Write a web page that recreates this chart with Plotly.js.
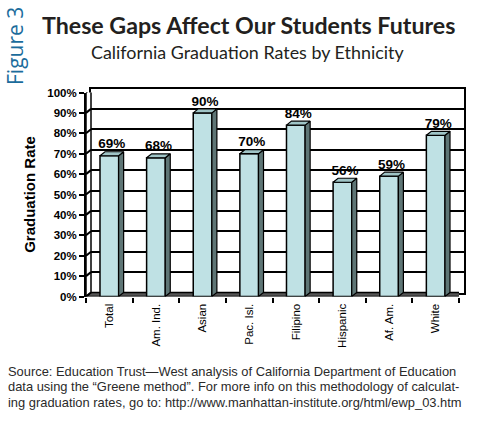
<!DOCTYPE html>
<html><head><meta charset="utf-8">
<script src="https://cdn.plot.ly/plotly-3.0.1.min.js"></script>
<style>html,body{margin:0;padding:0;background:#fff}#chart{width:490px;height:422px}</style>
</head><body><div id="chart"></div>
<script>
// ---- data ----
const categories = ["Total", "Am. Ind.", "Asian", "Pac. Isl.", "Filipino", "Hispanic", "Af. Am.", "White"];
const rates = [69, 68, 90, 70, 84, 56, 59, 79];
const rateLabels = ["69%", "68%", "90%", "70%", "84%", "56%", "59%", "79%"];
const yTicks = [0, 10, 20, 30, 40, 50, 60, 70, 80, 90, 100];
const sourceLines = [
  'Source: Education Trust—West analysis of California Department of Education',
  'data using the “Greene method”. For more info on this methodology of calculat-',
  'ing graduation rates, go to: http://www.manhattan-institute.org/html/ewp_03.htm'
];

// ---- geometry helpers (pixels -> paper) ----
const W = 490, H = 422;
const px = v => v / W, py = v => 1 - v / H;
const front = {x0: 86, x1: 459, y0: 296.5, y1: 92.5};
const DX = 5, DY = 4; // 3-D depth in px
const xUnit = (front.x1 - front.x0) / categories.length;
const yUnit = (front.y0 - front.y1) / 100;
const dx = DX / xUnit, dy = DY / yUnit; // depth in data units
const bw = 0.4;

const idx = categories.map((c, i) => i);

// side and top faces, built from the data
const sideX = [], sideY = [], topX = [], topY = [];
idx.forEach(i => {
  const v = rates[i], l = i - bw / 2, r = i + bw / 2;
  sideX.push(r, r + dx, r + dx, r, r, null);
  sideY.push(0, dy, v + dy, v, 0, null);
  topX.push(l, l + dx, r + dx, r, l, null);
  topY.push(v, v + dy, v + dy, v, v, null);
});

const traces = [
  {x: [-0.5, 7.5], y: [0, 100], xaxis: 'x', yaxis: 'y', mode: 'markers',
   marker: {opacity: 0}, hoverinfo: 'skip', showlegend: false},
  {type: 'bar', x: idx, y: rates, xaxis: 'x2', yaxis: 'y2', width: bw,
   marker: {color: '#bfe1e4', line: {color: '#000', width: 1.5}},
   hoverinfo: 'skip', showlegend: false},
  {x: sideX, y: sideY, xaxis: 'x2', yaxis: 'y2', mode: 'lines', fill: 'toself',
   fillcolor: '#5e7575', line: {color: '#000', width: 1.2}, hoverinfo: 'skip', showlegend: false},
  {x: topX, y: topY, xaxis: 'x2', yaxis: 'y2', mode: 'lines', fill: 'toself',
   fillcolor: '#9fc4c6', line: {color: '#000', width: 1.2}, hoverinfo: 'skip', showlegend: false},
  {x: idx.map(i => i + dx / 2), y: rates.map(v => v + dy), text: rateLabels,
   xaxis: 'x2', yaxis: 'y2', mode: 'text', textposition: 'top center',
   textfont: {family: 'Liberation Sans, Arial', size: 13.5, color: '#000', weight: 'bold'},
   cliponaxis: false, hoverinfo: 'skip', showlegend: false}
];

const shapes = [];
shapes.push({type: 'path', xref: 'x2', yref: 'y2', layer: 'below',
  path: `M -0.5 0 L 7.5 0 L ${7.5 + dx} ${dy} L ${-0.5 + dx} ${dy} Z`,
  fillcolor: '#555555', line: {color: '#000', width: 1.5}});
shapes.push({type: 'path', xref: 'x2', yref: 'y2', layer: 'below',
  path: `M -0.5 0 L -0.5 100 L ${-0.5 + dx} ${100 + dy} L ${-0.5 + dx} ${dy} Z`,
  fillcolor: '#ffffff', line: {color: '#000', width: 1.5}});
yTicks.forEach(t => shapes.push({type: 'line', xref: 'x2', yref: 'y2', layer: 'below',
  x0: -0.5, y0: t, x1: -0.5 + dx, y1: t + dy, line: {color: '#000', width: 2}}));

const fontArial = 'Liberation Sans, Arial, sans-serif';

const annotations = [
  {text: 'These Gaps Affect Our Students Futures', xref: 'paper', yref: 'paper',
   x: px(248.5), y: py(25), xanchor: 'center', yanchor: 'middle', showarrow: false,
   font: {family: 'Lato, sans-serif', size: 23.2, color: '#231f20', weight: 'bold'}},
  {text: 'California Graduation Rates by Ethnicity', xref: 'paper', yref: 'paper',
   x: px(248), y: py(52), xanchor: 'center', yanchor: 'middle', showarrow: false,
   font: {family: 'Lato, sans-serif', size: 17.9, color: '#231f20'}},
  {text: 'Figure 3', xref: 'paper', yref: 'paper', textangle: -90,
   x: px(15), y: py(46), xanchor: 'center', yanchor: 'middle', showarrow: false,
   font: {family: 'Open Sans, sans-serif', size: 21, color: '#1b6c9c'}}
];
sourceLines.forEach((t, k) => annotations.push({text: t, xref: 'paper', yref: 'paper',
  x: px(6), y: py(371 + k * 15.5), xanchor: 'left', yanchor: 'middle', showarrow: false,
  font: {family: fontArial, size: 12.9, color: '#2a2a2a'}}));

const layout = {
  width: W, height: H, margin: {l: 0, r: 0, t: 0, b: 0},
  paper_bgcolor: '#fff', plot_bgcolor: 'rgba(0,0,0,0)', showlegend: false,
  xaxis: {domain: [px(front.x0 + DX), px(front.x1 + DX)], range: [-0.5, 7.5],
    showgrid: false, zeroline: false, showticklabels: false, ticks: '',
    showline: true, mirror: true, linecolor: '#000', linewidth: 2, fixedrange: true},
  yaxis: {domain: [py(front.y0 - DY), py(front.y1 - DY)], range: [0, 100],
    tickvals: yTicks, showgrid: true, gridcolor: '#000', gridwidth: 2,
    zeroline: false, showticklabels: false, ticks: '',
    showline: true, mirror: true, linecolor: '#000', linewidth: 2, fixedrange: true},
  xaxis2: {domain: [px(front.x0), px(front.x1)], range: [-0.5, 7.5], anchor: 'y2',
    tickvals: idx, ticktext: categories, ticks: '', tickangle: -90,
    ticklabelstandoff: 4,
    tickfont: {family: fontArial, size: 11.5, color: '#000'},
    minor: {tickvals: [-0.5, 0.5, 1.5, 2.5, 3.5, 4.5, 5.5, 6.5, 7.5], ticks: 'outside',
      ticklen: 5, tickwidth: 2, tickcolor: '#000'},
    showgrid: false, zeroline: false, showline: false, fixedrange: true},
  yaxis2: {domain: [py(front.y0), py(front.y1)], range: [0, 100], anchor: 'x2',
    tickvals: yTicks, ticktext: yTicks.map(t => t + '%'), ticks: 'outside',
    ticklen: 5, tickwidth: 2, tickcolor: '#000',
    tickfont: {family: fontArial, size: 11.5, color: '#000', weight: 'bold'},
    showgrid: false, zeroline: false, showline: true, linecolor: '#000', linewidth: 2,
    title: {text: 'Graduation Rate', standoff: 8,
      font: {family: 'Liberation Sans Narrow, Arial Narrow, Liberation Sans', size: 15, color: '#000', weight: 'bold'}},
    fixedrange: true},
  shapes: shapes,
  annotations: annotations
};

Plotly.newPlot('chart', traces, layout, {displayModeBar: false, staticPlot: true});
</script></body></html>
